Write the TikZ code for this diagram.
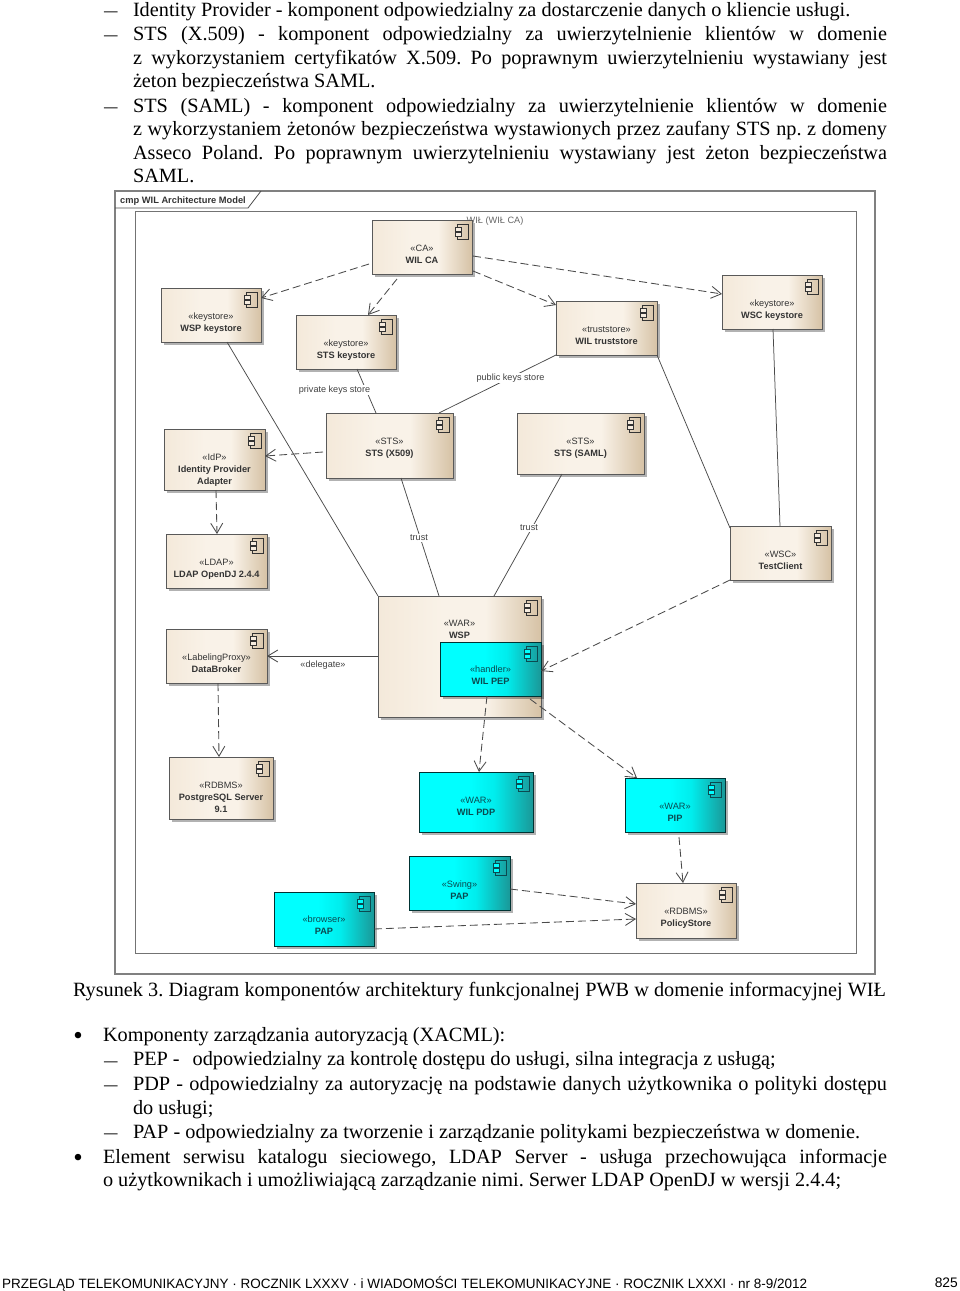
\documentclass[tikz,border=0pt]{standalone}
\usepackage{fontspec}
\setmainfont{Liberation Serif}
\newfontfamily\diagfont{Liberation Sans}
\usetikzlibrary{arrows.meta,shadows}
\definecolor{tanfill}{HTML}{F6ECDF}
\definecolor{tanA}{HTML}{F4E9DA}
\definecolor{tanB}{HTML}{F9F2E8}
\definecolor{tanC}{HTML}{D6C2A5}
\definecolor{cyanA}{HTML}{00FFFF}
\definecolor{cyanB}{HTML}{00EDED}
\definecolor{cyanC}{HTML}{1A9898}
\definecolor{linegrey}{HTML}{4A4A4A}
\definecolor{tealtext}{HTML}{0B4A50}
\pgfdeclarehorizontalshading{tanshade}{100bp}{color(0bp)=(tanA);color(25bp)=(tanA);color(45bp)=(tanB);color(58bp)=(tanB);color(75bp)=(tanC);color(100bp)=(tanC)}
\pgfdeclarehorizontalshading{cyanshade}{100bp}{color(0bp)=(cyanA);color(25bp)=(cyanA);color(47bp)=(cyanA);color(58bp)=(cyanB);color(75bp)=(cyanC);color(100bp)=(cyanC)}
\tikzset{
  comp/.style={rectangle,draw=#1,line width=0.9pt,inner sep=0pt,outer sep=0pt,align=center,
    font=\diagfont\fontsize{9.2}{12}\selectfont,
    drop shadow={shadow xshift=2.5pt,shadow yshift=-2.5pt,fill=black,opacity=.3}},
  tancomp/.style={comp=black!65,shading=tanshade,text=black!80},
  cyancomp/.style={comp=black!60!teal,shading=cyanshade,text=tealtext},
  dep/.style={draw=linegrey,line width=0.85pt,dash pattern=on 8pt off 4pt,-{Straight Barb[length=10pt,width=12pt]}},
  solidarrow/.style={draw=linegrey,line width=0.85pt,-{Straight Barb[length=10pt,width=12pt]}},
  assoc/.style={draw=linegrey,line width=0.75pt},
  lbl/.style={font=\diagfont\fontsize{9.1}{10}\selectfont,text=black!75,fill=white,inner sep=1pt},
  body/.style={anchor=base west,inner sep=0pt,outer sep=0pt,font=\frenchspacing\fontsize{20.26}{24}\selectfont,text=black},
  dashmark/.style={anchor=base west,inner sep=0pt,outer sep=0pt,font=\fontsize{13.5}{16}\selectfont\bfseries,text=black},
  bulletmark/.style={anchor=base,inner sep=0pt,outer sep=0pt,font=\fontsize{27}{28}\selectfont,text=black},
}
\newcommand{\just}[2]{\makebox[#1pt][s]{#2}}
\begin{document}
\begin{tikzpicture}[x=1pt,y=-1pt]
\useasboundingbox (0,0) rectangle (960,1291);
% page text
\node[dashmark] (d1) at (104,15) {—};
\node[body] (t1) at (133,16) {Identity Provider - komponent odpowiedzialny za dostarczenie danych o kliencie usługi.};
\node[dashmark] (d2) at (104,39) {—};
\node[body] (t2) at (133,40) {\just{754}{STS (X.509) - komponent odpowiedzialny za uwierzytelnienie klientów w domenie}};
\node[body] (t3) at (133,64) {\just{754}{z wykorzystaniem certyfikatów X.509. Po poprawnym uwierzytelnieniu wystawiany jest}};
\node[body] (t4) at (133,87) {żeton bezpieczeństwa SAML.};
\node[dashmark] (d3) at (104,111) {—};
\node[body] (t5) at (133,112) {\just{754}{STS (SAML) - komponent odpowiedzialny za uwierzytelnienie klientów w domenie}};
\node[body] (t6) at (133,135) {\just{754}{z wykorzystaniem żetonów bezpieczeństwa wystawionych przez zaufany STS np. z domeny}};
\node[body] (t7) at (133,159) {\just{754}{Asseco Poland. Po poprawnym uwierzytelnieniu wystawiany jest żeton bezpieczeństwa}};
\node[body] (t8) at (133,182) {SAML.};
\node[body] (cap) at (73,996) {\just{813}{Rysunek 3. Diagram komponentów architektury funkcjonalnej PWB w domenie informacyjnej WIŁ}};
\node[bulletmark] (b1) at (78,1044) {•};
\node[body] (t9) at (103,1041) {Komponenty zarządzania autoryzacją (XACML):};
\node[dashmark] (d4) at (104,1065) {—};
\node[body] (t10) at (133,1065) {PEP -\hspace{13pt}\just{583}{odpowiedzialny za kontrolę dostępu do usługi, silna integracja z usługą;}};
\node[dashmark] (d5) at (104,1089) {—};
\node[body] (t11) at (133,1090) {\just{754}{PDP - odpowiedzialny za autoryzację na podstawie danych użytkownika o polityki dostępu}};
\node[body] (t12) at (133,1114) {do usługi;};
\node[dashmark] (d6) at (104,1137) {—};
\node[body] (t13) at (133,1138) {\just{727}{PAP - odpowiedzialny za tworzenie i zarządzanie politykami bezpieczeństwa w domenie.}};
\node[bulletmark] (b2) at (78,1166) {•};
\node[body] (t14) at (103,1163) {\just{784}{Element serwisu katalogu sieciowego, LDAP Server - usługa przechowująca informacje}};
\node[body] (t15) at (103,1186) {o użytkownikach i umożliwiającą zarządzanie nimi. Serwer LDAP OpenDJ w wersji 2.4.4;};
\node[anchor=base west,inner sep=0pt,font=\diagfont\fontsize{13.5}{16}\selectfont] (foot) at (2,1288) {PRZEGLĄD TELEKOMUNIKACYJNY · ROCZNIK LXXXV · i WIADOMOŚCI TELEKOMUNIKACYJNE · ROCZNIK LXXXI · nr 8-9/2012};
\node[anchor=base east,inner sep=0pt,font=\diagfont\fontsize{13.8}{16}\selectfont] (pageno) at (958,1287) {825};
% frames
\draw[draw=black!50,line width=1.3pt] (115,191) rectangle (875,974);
\draw[draw=black!55,line width=1pt] (135,211) rectangle (856,953);
\draw[draw=black!70,line width=0.8pt] (115,208) -- (248,208) -- (261,191);
\node[anchor=base west,inner sep=0pt,font=\diagfont\bfseries\fontsize{9.3}{10}\selectfont,text=black!80] (title) at (120,203) {cmp WIL Architecture Model};
\node[inner sep=0pt,font=\diagfont\fontsize{9.2}{10}\selectfont,text=black!60] (pkg) at (495,221) {WIŁ (WIŁ CA)};
% components
\node[tancomp,minimum width=100pt,minimum height=54pt] (wilca) at (422,247) {\mbox{}\\[10pt]«CA»\\\textbf{WIL CA}};
\node[tancomp,minimum width=100pt,minimum height=54pt] (wspkey) at (211,315) {\mbox{}\\[10pt]«keystore»\\\textbf{WSP keystore}};
\node[tancomp,minimum width=100pt,minimum height=54pt] (stskey) at (346,342) {\mbox{}\\[10pt]«keystore»\\\textbf{STS keystore}};
\node[tancomp,minimum width=101pt,minimum height=54pt] (trust) at (606.5,328) {\mbox{}\\[9pt]«truststore»\\\textbf{WIL truststore}};
\node[tancomp,minimum width=100pt,minimum height=54pt] (wsckey) at (772,302) {\mbox{}\\[10pt]«keystore»\\\textbf{WSC keystore}};
\node[tancomp,minimum width=127pt,minimum height=65pt] (x509) at (389.5,445.5) {\mbox{}\\«STS»\\\textbf{STS (X509)}};
\node[tancomp,minimum width=127pt,minimum height=61pt] (saml) at (580.5,443.5) {\mbox{}\\[4pt]«STS»\\\textbf{STS (SAML)}};
\node[tancomp,minimum width=101pt,minimum height=61pt] (idp) at (214.5,459.5) {\mbox{}\\[15pt]«IdP»\\\textbf{Identity Provider}\\\textbf{Adapter}};
\node[tancomp,minimum width=101pt,minimum height=54pt] (ldap) at (216.5,561) {\mbox{}\\[10pt]«LDAP»\\\textbf{LDAP OpenDJ 2.4.4}};
\node[tancomp,minimum width=101pt,minimum height=54pt] (broker) at (216.5,656) {\mbox{}\\[9pt]«LabelingProxy»\\\textbf{DataBroker}};
\node[tancomp,minimum width=101pt,minimum height=54pt] (client) at (780.5,553) {\mbox{}\\[10pt]«WSC»\\\textbf{TestClient}};
\node[tancomp,minimum width=163pt,minimum height=121pt] (wsp) at (459.5,656.5) {};
\node[inner sep=0pt,align=center,font=\diagfont\fontsize{9.2}{12}\selectfont,text=black!80] (wsptext) at (459.5,629.5) {«WAR»\\\textbf{WSP}};
\node[cyancomp,minimum width=101pt,minimum height=54pt] (pep) at (490.5,669) {\mbox{}\\[7pt]«handler»\\\textbf{WIL PEP}};
\node[tancomp,minimum width=104pt,minimum height=62pt] (pg) at (221,788) {\mbox{}\\[13pt]«RDBMS»\\\textbf{PostgreSQL Server}\\\textbf{9.1}};
\node[cyancomp,minimum width=114pt,minimum height=60pt] (pdp) at (476,802) {\mbox{}\\[2pt]«WAR»\\\textbf{WIL PDP}};
\node[cyancomp,minimum width=100pt,minimum height=54pt] (pip) at (675,805) {\mbox{}\\[8pt]«WAR»\\\textbf{PIP}};
\node[cyancomp,minimum width=101pt,minimum height=54pt] (swing) at (459.5,883) {\mbox{}\\[8pt]«Swing»\\\textbf{PAP}};
\node[cyancomp,minimum width=100pt,minimum height=54pt] (browser) at (324,919) {\mbox{}\\[7pt]«browser»\\\textbf{PAP}};
\node[tancomp,minimum width=100pt,minimum height=55pt] (policy) at (686,910.5) {\mbox{}\\[10pt]«RDBMS»\\\textbf{PolicyStore}};
% component icons
\foreach \n/\c/\e in {wilca/tanfill/black!80,wspkey/tanfill/black!80,stskey/tanfill/black!80,trust/tanfill/black!80,wsckey/tanfill/black!80,x509/tanfill/black!80,saml/tanfill/black!80,idp/tanfill/black!80,ldap/tanfill/black!80,broker/tanfill/black!80,client/tanfill/black!80,wsp/tanfill/black!80,pg/tanfill/black!80,policy/tanfill/black!80,pep/cyanA/tealtext,pdp/cyanA/tealtext,pip/cyanA/tealtext,swing/cyanA/tealtext,browser/cyanA/tealtext}{
  \begin{scope}[shift={(\n.north east)},draw=\e,line width=0.7pt]
    \draw (-15,4) rectangle (-4,19);
    \draw[fill=\c] (-17,7.5) rectangle (-11,11.5);
    \draw[fill=\c] (-17,12.5) rectangle (-11,16.5);
  \end{scope}
}
% connectors
\draw[dep] ([shift={(-3,44)}]wilca.north west) -- ([shift={(100,10)}]wspkey.north west);
\draw[dep] ([shift={(25,59)}]wilca.north west) -- ([shift={(72,0)}]stskey.north west);
\draw[dep] ([shift={(101,51)}]wilca.north west) -- ([shift={(0,4)}]trust.north west);
\draw[dep] ([shift={(101,36)}]wilca.north west) -- ([shift={(0,19)}]wsckey.north west);
\draw[assoc] ([shift={(61,54)}]stskey.north west) -- ([shift={(50,0)}]x509.north west);
\draw[assoc] ([shift={(113,0)}]x509.north west) -- ([shift={(0,54)}]trust.north west);
\draw[assoc] ([shift={(66,54)}]wspkey.north west) -- (wsp.north west);
\draw[dep] ([shift={(-3,39)}]x509.north west) -- ([shift={(101,27)}]idp.north west);
\draw[assoc] ([shift={(75,65)}]x509.north west) -- ([shift={(61,0)}]wsp.north west);
\draw[assoc] ([shift={(45,61)}]saml.north west) -- ([shift={(116,0)}]wsp.north west);
\draw[assoc] ([shift={(101,54)}]trust.north west) -- ([shift={(0,2)}]client.north west);
\draw[assoc] ([shift={(51,54)}]wsckey.north west) -- ([shift={(50,0)}]client.north west);
\draw[dep] ([shift={(52,61)}]idp.north west) -- ([shift={(51,0)}]ldap.north west);
\draw[solidarrow] ([shift={(0,60)}]wsp.north west) -- ([shift={(101,27)}]broker.north west);
\draw[dep] ([shift={(52,54)}]broker.north west) -- ([shift={(50,0)}]pg.north west);
\draw[dep] ([shift={(47,54)}]pep.north west) -- ([shift={(60,0)}]pdp.north west);
\draw[dep] ([shift={(0,54)}]client.north west) -- ([shift={(101,29)}]pep.north west);
\draw[dep] ([shift={(90,57)}]pep.north west) -- ([shift={(12,0)}]pip.north west);
\draw[dep] ([shift={(54,59)}]pip.north west) -- ([shift={(47,0)}]policy.north west);
\draw[dep] ([shift={(101,33)}]swing.north west) -- ([shift={(0,21)}]policy.north west);
\draw[dep] ([shift={(100,37)}]browser.north west) -- ([shift={(0,36)}]policy.north west);
% connector labels
\node[lbl] (lpriv) at (334.5,390) {private keys store};
\node[lbl] (lpub) at (510.5,378) {public keys store};
\node[lbl] (ltr1) at (419,538) {trust};
\node[lbl] (ltr2) at (529,528) {trust};
\node[lbl,fill=none] (ldel) at (323,665) {«delegate»};
\end{tikzpicture}
\end{document}
